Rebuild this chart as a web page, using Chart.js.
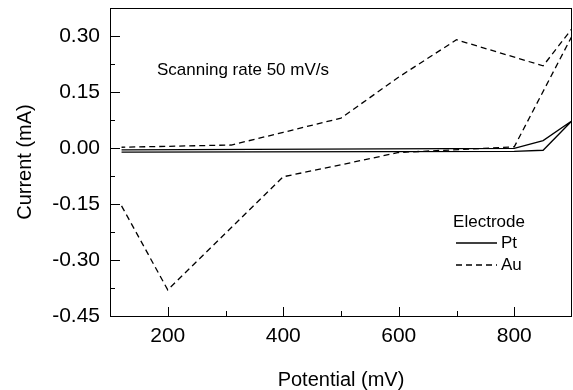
<!DOCTYPE html>
<html>
<head>
<meta charset="utf-8">
<script src="https://cdn.jsdelivr.net/npm/chart.js@4"></script>
<style>
  html, body { margin: 0; padding: 0; background: #fff; }
  #wrap { width: 573px; height: 390px; }
</style>
</head>
<body>
<div id="wrap"><canvas id="cv-chart"></canvas></div>
<script>
// Cyclic voltammograms, points listed in scan order
let ptPotential = [120, 800, 850, 900, 850, 800, 120];
let ptCurrent = [-0.011, -0.009, -0.006, 0.073, 0.020, -0.001, -0.005];
let auPotential = [120, 200, 400, 500, 600, 800, 900, 900, 850, 700, 600, 500, 400, 310, 120];
let auCurrent = [-0.155, -0.38, -0.077, -0.045, -0.012, 0.003, 0.30, 0.32, 0.22, 0.29, 0.19, 0.08, 0.042, 0.008, 0.002];
let xTicks = [200, 400, 600, 800];
let yTicks = [-0.45, -0.30, -0.15, 0.00, 0.15, 0.30];
let legendTitle = 'Electrode';
let noteText = 'Scanning rate 50 mV/s';

const FONT = 'Liberation Sans, Arial, Helvetica, sans-serif';

function toPoints(xs, ys) {
  return xs.map((v, i) => ({x: v, y: ys[i]}));
}

let framePlugin = {
  id: 'frame',
  afterDatasetsDraw(chart) {
    let ctx = chart.ctx;
    let a = chart.chartArea;
    let x = chart.scales.x;
    let y = chart.scales.y;
    ctx.save();
    ctx.strokeStyle = '#000';
    ctx.lineWidth = 1;
    ctx.strokeRect(Math.round(a.left) + 0.5, Math.round(a.top) + 0.5,
      Math.round(a.right - a.left) - 1, Math.round(a.bottom - a.top));

    // inward ticks, minors halfway between majors
    ctx.beginPath();
    let xs = 100;
    xTicks.forEach((v, i) => {
      let px = Math.round(x.getPixelForValue(v)) + 0.5;
      ctx.moveTo(px, a.bottom); ctx.lineTo(px, a.bottom - 9);
      let minors = [v - xs];
      if (i === xTicks.length - 1) minors.push(v + xs);
      minors.forEach(m => {
        if (m <= x.min || m >= x.max) return;
        let mx = Math.round(x.getPixelForValue(m)) + 0.5;
        ctx.moveTo(mx, a.bottom); ctx.lineTo(mx, a.bottom - 5);
      });
    });
    let ys = 0.075;
    yTicks.forEach((v, i) => {
      let py = Math.round(y.getPixelForValue(v)) + 0.5;
      ctx.moveTo(a.left, py); ctx.lineTo(a.left + 10, py);
      let minors = [v - ys];
      if (i === yTicks.length - 1) minors.push(v + ys);
      minors.forEach(m => {
        if (m <= y.min + 1e-9 || m >= y.max - 1e-9) return;
        let my = Math.round(y.getPixelForValue(m)) + 0.5;
        ctx.moveTo(a.left, my); ctx.lineTo(a.left + 5, my);
      });
    });
    ctx.stroke();

    // note
    ctx.fillStyle = '#000';
    ctx.font = '17px ' + FONT;
    ctx.textAlign = 'left';
    ctx.textBaseline = 'middle';
    ctx.fillText(noteText, 157, 70);

    // legend
    ctx.font = '17px ' + FONT;
    ctx.textAlign = 'center';
    ctx.fillText(legendTitle, 489, 222);
    ctx.textAlign = 'left';
    chart.data.datasets.forEach((ds, i) => {
      let ly = 243 + i * 22;
      ctx.save();
      ctx.lineWidth = ds.borderWidth;
      ctx.setLineDash(ds.borderDash || []);
      ctx.beginPath();
      ctx.moveTo(456, ly);
      ctx.lineTo(497, ly);
      ctx.stroke();
      ctx.restore();
      ctx.fillText(ds.label, 501, ly);
    });
    ctx.restore();
  }
};

let chart = new Chart(document.getElementById('cv-chart').getContext('2d'), {
  type: 'scatter',
  data: {
    datasets: [{
      label: 'Pt',
      data: toPoints(ptPotential, ptCurrent),
      showLine: true,
      borderColor: '#000',
      borderWidth: 1.3,
      borderDash: [],
      pointRadius: 0,
      tension: 0
    }, {
      label: 'Au',
      data: toPoints(auPotential, auCurrent),
      showLine: true,
      borderColor: '#000',
      borderWidth: 1.3,
      borderDash: [6, 4],
      pointRadius: 0,
      tension: 0
    }]
  },
  options: {
    responsive: true,
    maintainAspectRatio: false,
    animation: false,
    layout: { padding: { top: 8, right: 1, left: 0, bottom: 0 } },
    plugins: {
      legend: { display: false },
      tooltip: { enabled: false }
    },
    scales: {
      x: {
        type: 'linear',
        min: 100,
        max: 900,
        grid: { display: false },
        border: { display: false },
        afterBuildTicks: s => { s.ticks = xTicks.map(v => ({value: v})); },
        afterFit: s => { s.height = 74; s.paddingLeft = 0; s.paddingRight = 0; },
        ticks: {
          color: '#000',
          padding: 0,
          font: { family: FONT, size: 21 }
        },
        title: {
          display: true,
          text: 'Potential (mV)',
          color: '#000',
          padding: { top: 0, bottom: 0 },
          font: { family: FONT, size: 20, lineHeight: 1 }
        }
      },
      y: {
        type: 'linear',
        min: -0.45,
        max: 0.375,
        grid: { display: false },
        border: { display: false },
        afterBuildTicks: s => { s.ticks = yTicks.map(v => ({value: v})); },
        afterFit: s => { s.width = 110; s.paddingTop = 0; s.paddingBottom = 0; },
        ticks: {
          color: '#000',
          padding: 2,
          font: { family: FONT, size: 21 },
          callback: v => v.toFixed(2)
        },
        title: {
          display: true,
          text: 'Current (mA)',
          color: '#000',
          padding: { top: 15, bottom: 0 },
          font: { family: FONT, size: 20, lineHeight: 1 }
        }
      }
    }
  },
  plugins: [framePlugin]
});
</script>
</body>
</html>
